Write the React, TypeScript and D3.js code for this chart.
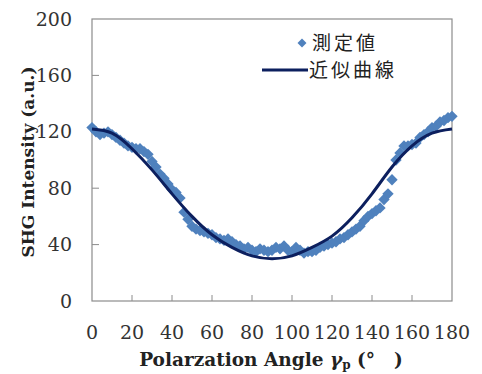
import React from 'react'
import * as d3 from 'd3'

// measured SHG intensity, every 2 degrees from 0 to 180
const angles: number[] = d3.range(0, 181, 2)
const measured: number[] = [
  123, 120, 118, 119, 120, 118, 116, 114, 112, 110,
  109, 108, 108, 106, 104, 99, 95, 90, 87, 83,
  79, 77, 73, 63, 58, 53, 51, 50, 49, 48,
  47, 45, 44, 43, 44, 42, 40, 39, 37, 38,
  36, 35, 37, 36, 35, 36, 38, 37, 39, 36,
  35, 38, 36, 34, 35, 35, 36, 38, 39, 40,
  41, 42, 44, 45, 47, 49, 51, 53, 57, 60,
  62, 64, 66, 72, 76, 86, 100, 105, 110, 110,
  111, 112, 116, 118, 120, 123, 124, 127, 128, 130,
  131,
]

// fitted curve read every 10 degrees
const fitAngles: number[] = [0, 10, 20, 30, 40, 50, 60, 70, 80, 90, 100, 110, 120, 130, 140, 150, 160, 170, 180]
const fitValues: number[] = [122, 119, 108, 93, 76, 60, 47, 38, 32, 30, 32, 38, 46, 59, 76, 95, 110, 119, 122]

const xTicks: number[] = [0, 20, 40, 60, 80, 100, 120, 140, 160, 180]
const yTicks: number[] = [0, 40, 80, 120, 160, 200]

const legendLabels: string[] = ['測定値', '近似曲線']

const width = 482
const height = 374
const plot = { left: 92, right: 452, top: 19, bottom: 301 }

const pointColor = '#4f81bd'
const lineColor = '#0c1f5e'
const frameColor = '#8c8c8c'
const serif = 'DejaVu Serif, Liberation Serif, Times New Roman, serif'
const cjk = 'Noto Sans CJK JP, sans-serif'

export default function App() {
  const x = d3.scaleLinear().domain([0, 180]).range([plot.left, plot.right])
  const y = d3.scaleLinear().domain([0, 200]).range([plot.bottom, plot.top])

  const diamond = d3.symbol(d3.symbolSquare, 64)()
  const legendDiamond = d3.symbol(d3.symbolSquare, 40)()

  const fitLine = d3.line<number>()
    .x((d, i) => x(fitAngles[i]))
    .y(d => y(d))
    .curve(d3.curveNatural)

  return (
    <svg width={width} height={height} style={{ position: 'absolute', left: 0, top: 0, background: '#fff' }}>
      <rect x={plot.left} y={plot.top} width={plot.right - plot.left} height={plot.bottom - plot.top}
        fill="none" stroke={frameColor} strokeWidth={1.2} />

      {yTicks.map(t => (
        <g key={'y' + t}>
          {t > 0 && t < 200 && (
            <line x1={plot.left} x2={plot.left + 7} y1={y(t)} y2={y(t)} stroke={frameColor} strokeWidth={1} />
          )}
          <text x={72} y={y(t)} dy="0.35em" textAnchor="end" style={{ fontFamily: serif, fontSize: 19 }} fill="#333">{t}</text>
        </g>
      ))}

      {xTicks.map(t => (
        <g key={'x' + t}>
          {t > 0 && t < 180 && (
            <line x1={x(t)} x2={x(t)} y1={plot.bottom} y2={plot.bottom - 6} stroke={frameColor} strokeWidth={1} />
          )}
          <text x={x(t)} y={339} textAnchor="middle" style={{ fontFamily: serif, fontSize: 19 }} fill="#333">{t}</text>
        </g>
      ))}

      {measured.map((v, i) => (
        <path key={'p' + i} d={diamond || ''} transform={`translate(${x(angles[i])},${y(v)}) rotate(45)`} fill={pointColor} />
      ))}

      <path d={fitLine(fitValues) || ''} fill="none" stroke={lineColor} strokeWidth={3} />

      <g>
        <path d={legendDiamond || ''} transform="translate(302,43) rotate(45)" fill={pointColor} />
        <text x={312} y={43} dy="0.35em" style={{ fontFamily: cjk, fontSize: 19, letterSpacing: 3 }} fill="#222">{legendLabels[0]}</text>
        <line x1={262} x2={308} y1={70} y2={70} stroke={lineColor} strokeWidth={3} />
        <text x={309} y={70} dy="0.35em" style={{ fontFamily: cjk, fontSize: 19, letterSpacing: 3 }} fill="#222">{legendLabels[1]}</text>
      </g>

      <text transform="translate(34,162) rotate(-90)" textAnchor="middle" style={{ fontFamily: serif, fontWeight: 'bold', fontSize: 17 }} fill="#222">
        SHG Intensity (a.u.)
      </text>

      <text x={271} y={366} textAnchor="middle" style={{ fontFamily: serif, fontWeight: 'bold', fontSize: 18.5 }} fill="#222">
        Polarzation Angle <tspan fontStyle="italic">γ</tspan><tspan fontSize={12} dy={3}>p</tspan><tspan dy={-3}> (°　)</tspan>
      </text>
    </svg>
  )
}
